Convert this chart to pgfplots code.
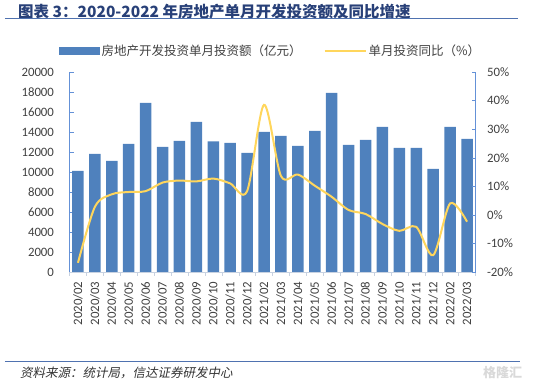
\documentclass[border=0pt]{standalone}
\usepackage{pgfplots}
\usepackage{pgfplotstable}
\pgfplotsset{compat=1.18}
\usepackage{fontspec}
\setmainfont{Carlito}
\newfontfamily\cjk{Noto Sans CJK SC}
\newfontfamily\cjkit{Noto Sans CJK SC}[FakeSlant=0.2]
\definecolor{barblue}{RGB}{79,129,189}
\definecolor{lineyellow}{RGB}{255,214,92}
\definecolor{titleblue}{RGB}{40,64,120}
\definecolor{ruleblue}{RGB}{79,114,176}
\definecolor{axisblue}{RGB}{100,145,215}
\definecolor{axisgrey}{RGB}{200,210,225}
\definecolor{txtgrey}{RGB}{64,64,64}
\pgfplotstableread{
x inv yoy
0 10100 -16.8
1 11800 2.8
2 11100 7.2
3 12800 8.0
4 16900 8.3
5 12500 11.3
6 13100 12.0
7 15000 11.7
8 13050 12.7
9 12900 11.0
10 11900 8.3
11 14000 38.5
12 13600 13.6
13 12600 14.1
14 14100 10.2
15 17900 6.3
16 12700 1.7
17 13200 0.3
18 14500 -3.2
19 12400 -5.6
20 12400 -4.2
21 10300 -14.1
22 14500 4.0
23 13300 -2.4
}\datatable
\begin{document}
\begin{tikzpicture}
\path[use as bounding box] (-69.5pt,-115pt) rectangle (465.5pt,272pt);
\begin{axis}[
  at={(0pt,0pt)}, anchor=south west, scale only axis,
  width=406pt, height=200pt,
  xmin=-0.5, xmax=23.5, ymin=0, ymax=20000,
  axis x line=bottom, axis y line=left, axis line style={-},
  x axis line style={draw=axisgrey, line width=0.8pt},
  y axis line style={draw=axisblue, line width=0.8pt},
  xtick={0,...,23},
  xticklabels={2020/02,2020/03,2020/04,2020/05,2020/06,2020/07,2020/08,2020/09,2020/10,2020/11,2020/12,2021/02,2021/03,2021/04,2021/05,2021/06,2021/07,2021/08,2021/09,2021/10,2021/11,2021/12,2022/02,2022/03},
  major x tick style={draw=none},
  minor xtick={-0.5,0.5,...,23.5},
  minor x tick style={draw=axisgrey, yshift=-4pt},
  minor tick length=4pt, major tick length=4pt,
  tick align=inside,
  ytick={0,2000,...,20000},
  y tick style={draw=axisblue},
  scaled y ticks=false,
  /pgf/number format/assume math mode=true,
  /pgf/number format/1000 sep={},
  tick label style={font=\fontsize{12.8}{14}\selectfont, text=txtgrey},
  x tick label style={rotate=90, anchor=east},
  xticklabel shift=6pt,
  yticklabel shift=12pt,
]
\addplot[ybar, bar width=11.5pt, fill=barblue, draw=none] table[x=x,y=inv]{\datatable};
\end{axis}
\begin{axis}[
  at={(0pt,0pt)}, anchor=south west, scale only axis,
  width=406pt, height=200pt,
  xmin=-0.5, xmax=23.5, ymin=-20, ymax=50,
  axis x line=none, axis y line=right, axis line style={-},
  y axis line style={draw=axisblue, line width=0.8pt},
  ytick={-20,-10,...,50},
  yticklabel={\pgfmathprintnumber{\tick}\%},
  y tick style={draw=axisblue},
  major tick length=4pt, tick align=inside,
  /pgf/number format/assume math mode=true,
  tick label style={font=\fontsize{12.8}{14}\selectfont, text=txtgrey},
  yticklabel shift=8pt,
  legend columns=2,
  legend cell align=left,
  legend style={at={(-0.026,1.1065)}, anchor=west, draw=none, fill=none, inner sep=0pt,
    font=\cjk\fontsize{12.5}{14}\selectfont, text=txtgrey,
    /tikz/every even column/.append style={column sep=20pt}},
]
\addlegendimage{legend image code/.code={\fill[barblue] (0pt,-3.5pt) rectangle (40pt,3.5pt);}}
\addlegendentry{房地产开发投资单月投资额（亿元）}
\addplot[smooth, tension=0.5, color=lineyellow, line width=2pt, no marks,
  legend image code/.code={\draw[lineyellow, line width=2pt] (0pt,0pt) -- (41pt,0pt);}]
  table[x=x,y=yoy]{\datatable};
\addlegendentry{单月投资同比（\%）}
\end{axis}
\node[anchor=west, font=\cjk\bfseries\fontsize{15.5}{17}\selectfont, text=titleblue, inner sep=0pt] at (-51.5pt,260pt) {图表 3：2020-2022 年房地产单月开发投资额及同比增速};
\draw[ruleblue, line width=1.5pt] (-64.5pt,253.5pt) -- (448.5pt,253.5pt);
\draw[ruleblue, line width=1pt] (-64.5pt,-89.7pt) -- (450.5pt,-89.7pt);
\node[anchor=west, font=\cjkit\fontsize{12.5}{14}\selectfont, text=black!80, inner sep=0pt] at (-49.5pt,-101pt) {资料来源：统计局，信达证券研发中心};
\node[anchor=west, font=\cjk\bfseries\fontsize{13}{15}\selectfont, text=black!15, inner sep=0pt] at (413.5pt,-101pt) {格隆汇};
\end{tikzpicture}
\end{document}
